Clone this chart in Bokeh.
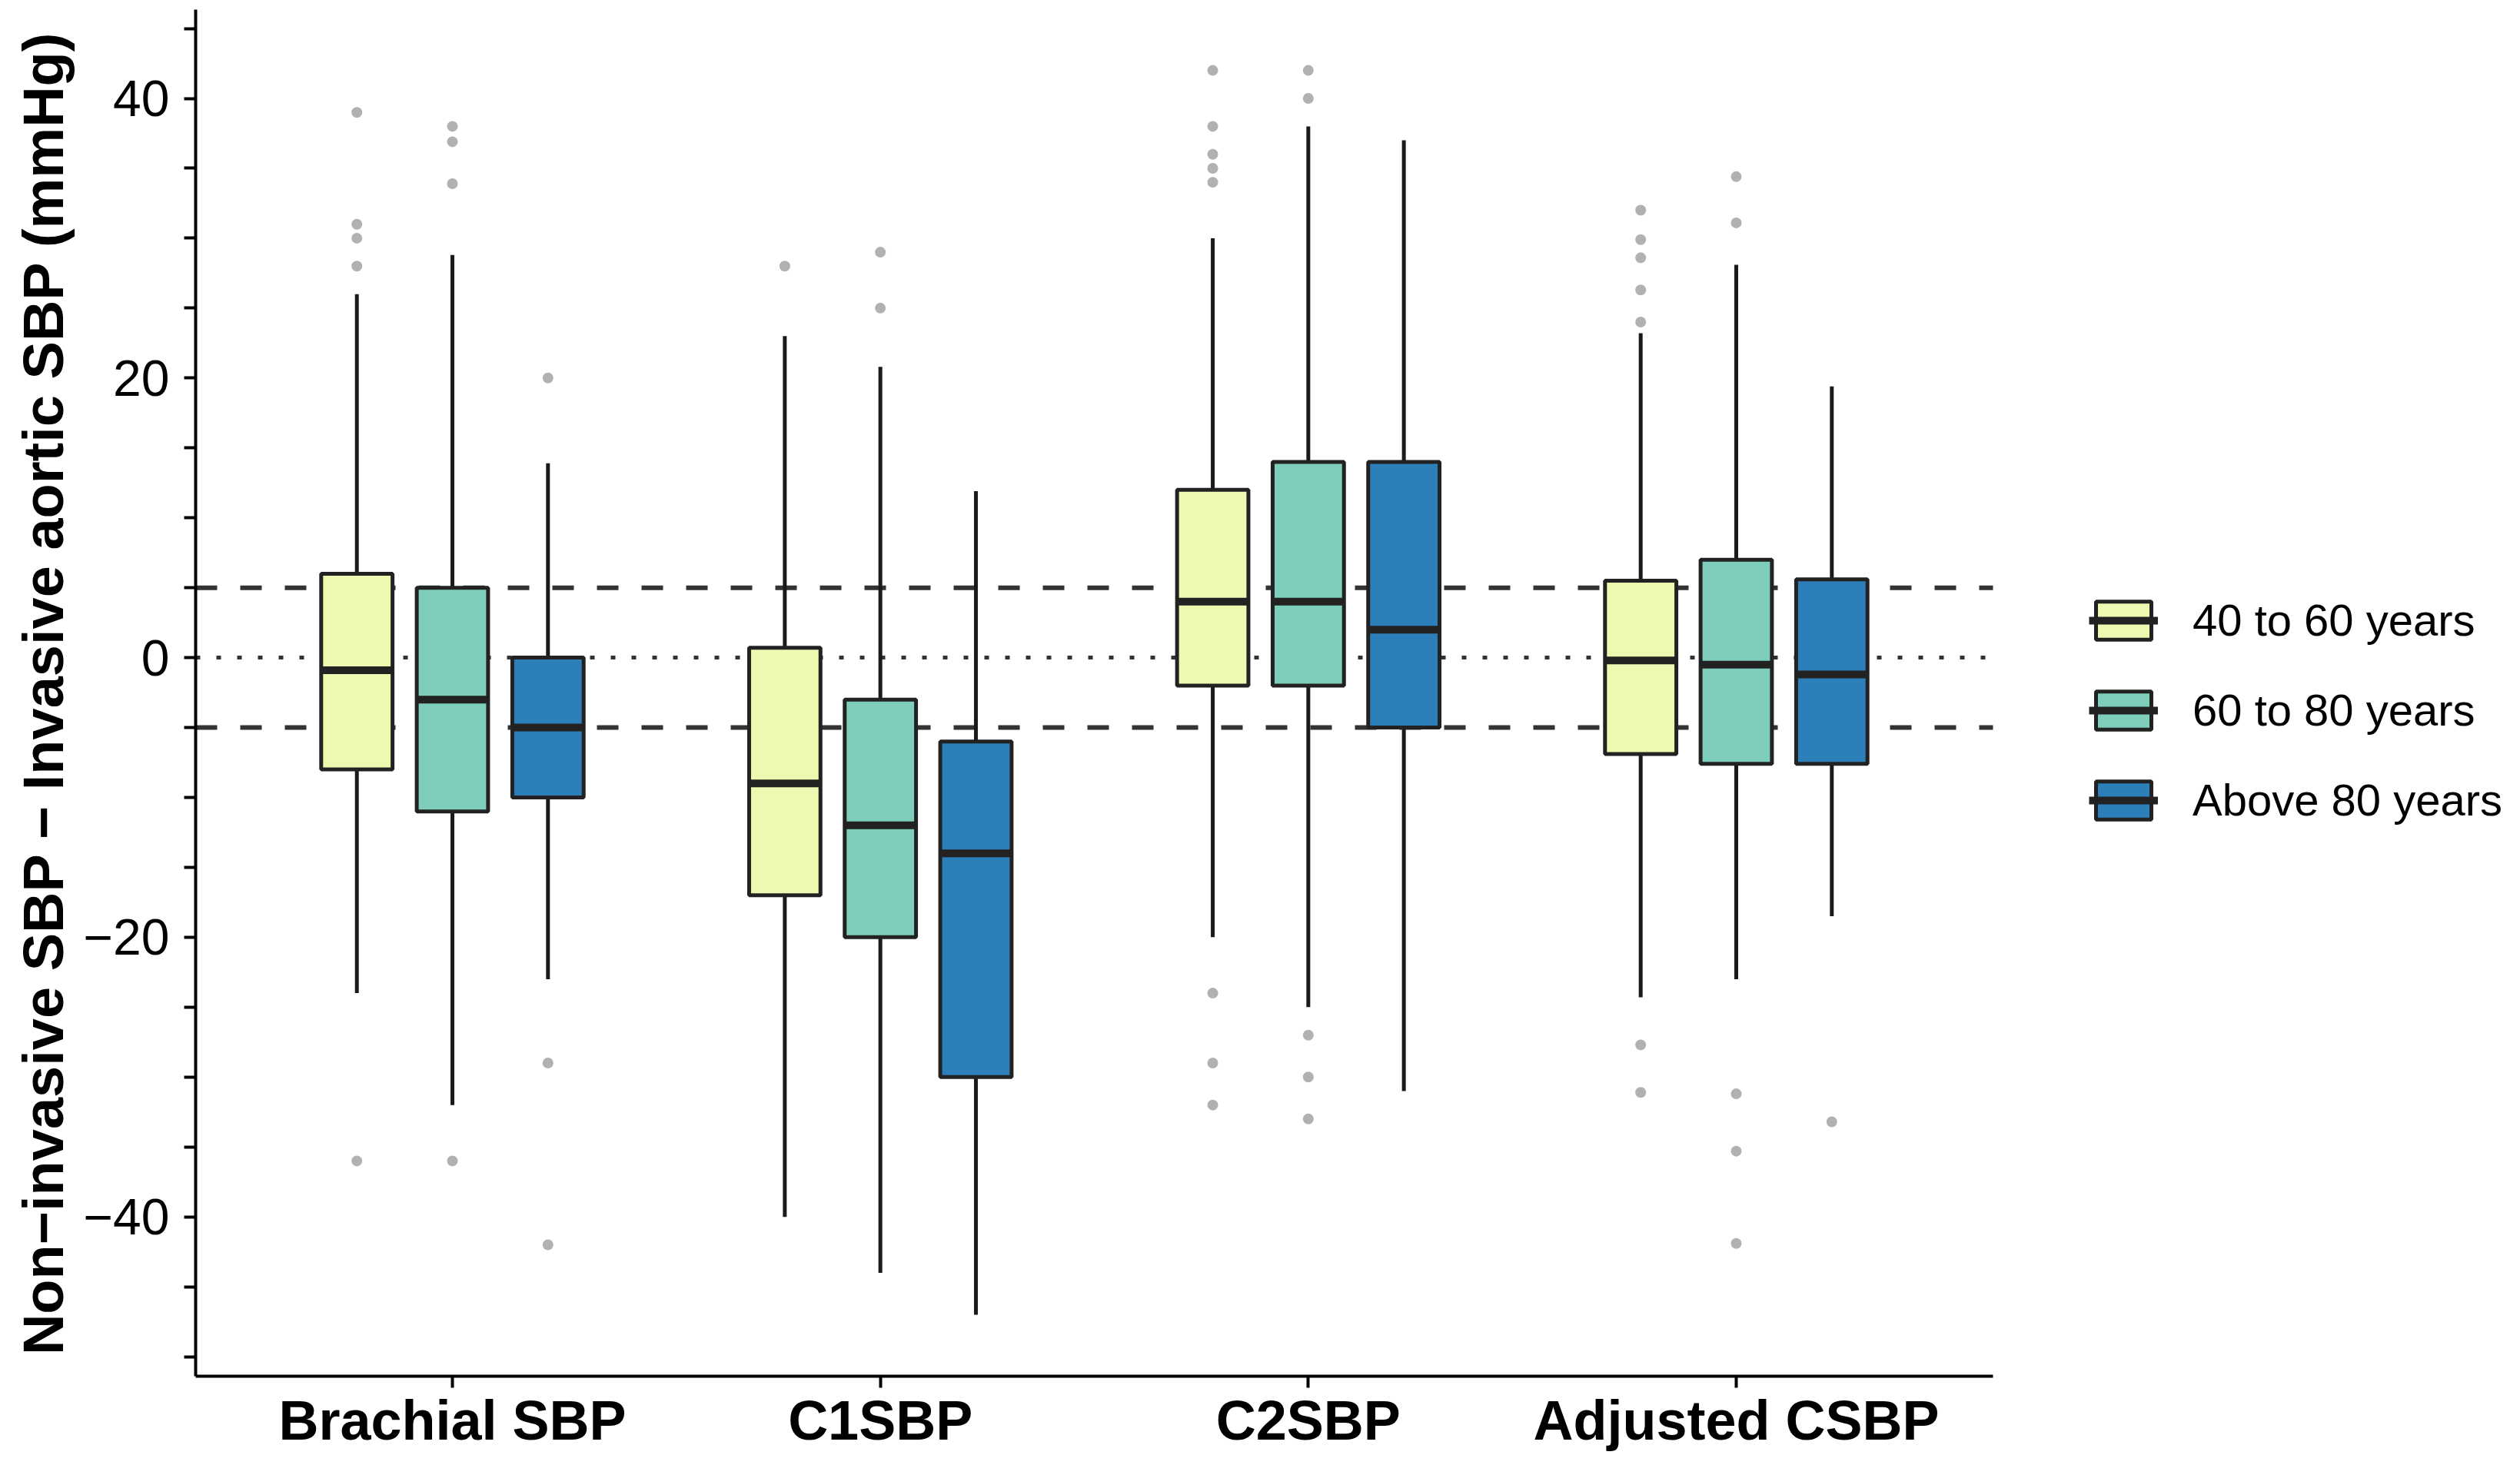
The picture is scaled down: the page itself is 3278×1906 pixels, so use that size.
from bokeh.plotting import figure
from bokeh.models import ColumnDataSource, FixedTicker, Legend, LegendItem, Range1d
from bokeh.embed import file_html
from bokeh.resources import INLINE

# ---------------- data ----------------
categories = ["Brachial SBP", "C1SBP", "C2SBP", "Adjusted CSBP"]
groups = ["40 to 60 years", "60 to 80 years", "Above 80 years"]
colors = ["#EDF8B1", "#7FCDBB", "#2C7FB8"]

# 40 to 60 years
g1_upper = [26, 23, 30, 23.2]
g1_q3 = [6, 0.7, 12, 5.5]
g1_median = [-0.9, -9, 4, -0.2]
g1_q1 = [-8, -17, -2, -6.9]
g1_lower = [-24, -40, -20, -24.3]
g1_outliers = [[39, 31, 30, 28, -36], [28], [42, 38, 36, 35, 34, -24, -29, -32],
               [32, 29.9, 28.6, 26.3, 24, -27.7, -31.1]]

# 60 to 80 years
g2_upper = [28.8, 20.8, 38, 28.1]
g2_q3 = [5, -3, 14, 7]
g2_median = [-3, -12, 4, -0.5]
g2_q1 = [-11, -20, -2, -7.6]
g2_lower = [-32, -44, -25, -23]
g2_outliers = [[38, 36.9, 33.9, -36], [29, 25], [42, 40, -27, -30, -33],
               [34.4, 31.1, -31.2, -35.3, -41.9]]

# Above 80 years
g3_upper = [13.9, 11.9, 37, 19.4]
g3_q3 = [0, -6, 14, 5.6]
g3_median = [-5, -14, 2, -1.2]
g3_q1 = [-10, -30, -5, -7.6]
g3_lower = [-23, -47, -31, -18.5]
g3_outliers = [[20, -29, -42], [], [], [-33.2]]

ref_dashed = [5, -5]
ref_dotted = [0]
y_ticks = list(range(-50, 46, 5))

series = [
    (g1_upper, g1_q3, g1_median, g1_q1, g1_lower, g1_outliers),
    (g2_upper, g2_q3, g2_median, g2_q1, g2_lower, g2_outliers),
    (g3_upper, g3_q3, g3_median, g3_q1, g3_lower, g3_outliers),
]

# ---------------- figure ----------------
FONT = "Liberation Sans"
W, H = 3262, 1890
ML, MR, MT, MB = 254, 0, 12, 100
X0, X1 = 0.4, 4.6           # extent of the category axis
AXIS_RIGHT_PX = 2592         # where the category axis ends (figure px)
ppu = (AXIS_RIGHT_PX - ML) / (X1 - X0)
x_end = X1 + (W - MR - AXIS_RIGHT_PX) / ppu   # extra room on the right for the legend

p = figure(width=W, height=H, x_range=Range1d(X0, x_end), y_range=Range1d(-51.4, 46.35),
           output_backend="svg", toolbar_location=None,
           min_border_left=ML, min_border_right=MR, min_border_top=MT, min_border_bottom=MB)
p.grid.visible = False
p.outline_line_color = None
p.background_fill_color = "white"
p.border_fill_color = "white"

# reference lines (across the category axis extent)
p.segment(x0=[X0] * len(ref_dashed), y0=ref_dashed, x1=[X1] * len(ref_dashed), y1=ref_dashed,
          line_color="#333333", line_width=6, line_dash="28 30")
p.segment(x0=[X0] * len(ref_dotted), y0=ref_dotted, x1=[X1] * len(ref_dotted), y1=ref_dotted,
          line_color="#333333", line_width=5, line_dash="6 21")

dodge = 0.2233
box_w = 0.1667
legend_items = []
for gi, (up, q3, med, q1, lo, outl) in enumerate(series):
    xs = [i + 1 + (gi - 1) * dodge for i in range(len(categories))]
    src = ColumnDataSource(dict(x=xs, up=up, q3=q3, med=med, q1=q1, lo=lo,
                                xl=[x - box_w / 2 for x in xs], xr=[x + box_w / 2 for x in xs]))
    p.segment(x0="x", y0="q3", x1="x", y1="up", source=src, line_color="#1a1a1a", line_width=5)
    p.segment(x0="x", y0="q1", x1="x", y1="lo", source=src, line_color="#1a1a1a", line_width=5)
    box = p.vbar(x="x", width=box_w, top="q3", bottom="q1", source=src,
                 fill_color=colors[gi], line_color="#222222", line_width=5)
    medr = p.segment(x0="xl", y0="med", x1="xr", y1="med", source=src,
                     line_color="#222222", line_width=10)
    ox, oy = [], []
    for ci, vals in enumerate(outl):
        for v in vals:
            ox.append(xs[ci])
            oy.append(v)
    p.scatter(x=ox, y=oy, size=14, fill_color="#A8A8A8", line_color=None, alpha=0.9)
    legend_items.append(LegendItem(label=groups[gi], renderers=[box, medr]))

# axes
p.xaxis.bounds = (X0, X1)
p.xaxis.ticker = FixedTicker(ticks=[1, 2, 3, 4])
p.xaxis.major_label_overrides = {i + 1: c for i, c in enumerate(categories)}
p.xaxis.major_label_text_font = FONT
p.xaxis.major_label_text_font_style = "bold"
p.xaxis.major_label_text_font_size = "72px"
p.xaxis.major_label_text_color = "black"
p.xaxis.major_label_standoff = 2

p.yaxis.ticker = FixedTicker(ticks=y_ticks)
overrides = {}
for t in y_ticks:
    if t % 20 == 0:
        overrides[t] = ("\u2212" + str(-t)) if t < 0 else str(t)
    else:
        overrides[t] = ""
p.yaxis.major_label_overrides = overrides
p.yaxis.major_label_text_font = FONT
p.yaxis.major_label_text_font_size = "66px"
p.yaxis.major_label_text_color = "black"
p.yaxis.major_label_standoff = 19
p.yaxis.axis_label = "Non\u2212invasive SBP \u2212 Invasive aortic SBP (mmHg)"
p.yaxis.axis_label_text_font = FONT
p.yaxis.axis_label_text_font_style = "bold"
p.yaxis.axis_label_text_font_size = "74px"
p.yaxis.axis_label_text_color = "black"
p.yaxis.axis_label_standoff = 8

for ax in (p.xaxis, p.yaxis):
    ax.axis_line_width = 4
    ax.axis_line_color = "black"
    ax.major_tick_line_width = 4
    ax.major_tick_line_color = "black"
    ax.major_tick_out = 15
    ax.major_tick_in = 0
    ax.minor_tick_out = 0
    ax.minor_tick_in = 0

# legend, placed in the free area to the right of the boxes
legend = Legend(items=legend_items, location=(2463, 716), orientation="vertical",
                glyph_width=90, glyph_height=62, label_height=62, spacing=50,
                label_standoff=45, padding=0, margin=0,
                label_text_font=FONT, label_text_font_size="58px", label_text_color="black",
                border_line_color=None, background_fill_alpha=0)
p.add_layout(legend)

open("out.html", "w").write(file_html(p, INLINE))
